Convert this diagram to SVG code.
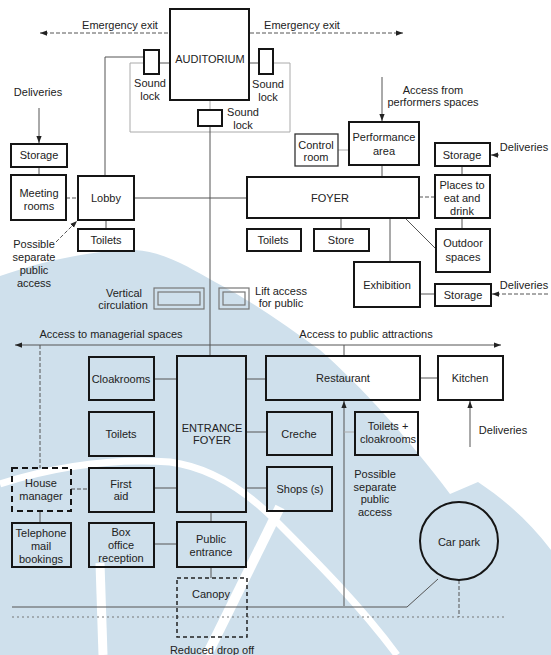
<svg xmlns="http://www.w3.org/2000/svg" width="551" height="655" viewBox="0 0 551 655">
<style>
.bx{fill:none;stroke:#151515;stroke-width:2}
.thin{fill:none;stroke:#333;stroke-width:1.3}
.dbx{fill:none;stroke:#151515;stroke-width:2;stroke-dasharray:6 4}
.dbx2{fill:none;stroke:#222;stroke-width:1.5;stroke-dasharray:4 3}
.vc{fill:none;stroke:#777;stroke-width:1.2}
.ln{fill:none;stroke:#555;stroke-width:1}
.lg{fill:none;stroke:#aaa;stroke-width:1}
.dash{fill:none;stroke:#555;stroke-width:1;stroke-dasharray:4 2}
.dot{fill:none;stroke:#777;stroke-width:1;stroke-dasharray:2 3}
.ar{marker-end:url(#ah)}
text{font-family:"Liberation Sans",Arial,sans-serif;font-size:11px;fill:#222;text-anchor:middle;dominant-baseline:central}
</style>
<defs>
<marker id="ah" viewBox="0 0 8 8" refX="8" refY="4" markerWidth="7" markerHeight="7" markerUnits="userSpaceOnUse" orient="auto">
<path d="M0,1 L8,4 L0,7 z" fill="#222"/>
</marker>
<marker id="as" viewBox="0 0 8 8" refX="8" refY="4" markerWidth="7" markerHeight="7" markerUnits="userSpaceOnUse" orient="auto-start-reverse">
<path d="M0,1 L8,4 L0,7 z" fill="#222"/>
</marker>
</defs>
<rect width="551" height="655" fill="#fff"/>
<g id="watermark">
<path d="M0,276 C40,262 90,250 135,250 C165,252 190,268 215,282 C250,300 285,325 320,350 C360,385 410,440 450,494 L478,482 C505,500 530,522 551,550 L551,655 L0,655 Z" fill="#cfe0ec"/>
<path d="M0,484 C50,468 110,458 170,462 C215,468 250,495 275,520 C315,560 360,605 397,655" fill="none" stroke="#fff" stroke-width="7"/>
<path d="M100,563 L103,655" fill="none" stroke="#fff" stroke-width="9"/>
<path d="M280,507 L207,655" fill="none" stroke="#fff" stroke-width="10"/>
</g>
<g id="connectors">
<line class="dash ar" x1="168" y1="33" x2="40" y2="33"/>
<line class="dash ar" x1="250" y1="33" x2="403" y2="33"/>
<polyline class="ln" points="105,176 105,57 144,57"/>
<polyline class="lg" points="144,63 130,63 130,132 290,132 290,63 273,63"/>
<line class="ln" x1="159" y1="63" x2="170" y2="63"/>
<line class="ln" x1="249" y1="63" x2="259" y2="63"/>
<line class="lg" x1="210" y1="100" x2="210" y2="110"/>
<line class="ln" x1="210" y1="126" x2="210" y2="356"/>
<line class="ln ar" x1="39" y1="108" x2="39" y2="143"/>
<line class="ln" x1="39" y1="167" x2="39" y2="175"/>
<line class="dash" x1="66" y1="198" x2="78" y2="198"/>
<line class="ln" x1="106" y1="220" x2="106" y2="229"/>
<line class="ln" x1="134" y1="198" x2="247" y2="198"/>
<line class="dash ar" x1="56" y1="242" x2="77" y2="221"/>
<line class="ln ar" x1="382" y1="77" x2="382" y2="121"/>
<line class="lg" x1="338" y1="150" x2="349" y2="150"/>
<line class="ln" x1="382" y1="165" x2="382" y2="177"/>
<line class="dash ar" x1="499" y1="155" x2="491" y2="155"/>
<line class="ln" x1="462" y1="166" x2="462" y2="175"/>
<line class="dash" x1="419" y1="197" x2="435" y2="197"/>
<line class="ln" x1="462" y1="218" x2="462" y2="229"/>
<line class="ln" x1="405" y1="218" x2="436" y2="249"/>
<line class="ln" x1="341" y1="218" x2="341" y2="229"/>
<line class="ln" x1="390" y1="218" x2="390" y2="262"/>
<line class="ln" x1="420" y1="294" x2="435" y2="294"/>
<line class="dash ar" x1="548" y1="294" x2="492" y2="294"/>
<line class="ln" x1="15" y1="345" x2="501" y2="345" marker-start="url(#as)" marker-end="url(#ah)"/>
<line class="dash" x1="40" y1="345" x2="40" y2="468"/>
<line class="ln" x1="344" y1="345" x2="344" y2="356"/>
<line class="ln" x1="154" y1="379" x2="177" y2="379"/>
<line class="ln" x1="246" y1="379" x2="266" y2="379"/>
<line class="ln" x1="420" y1="378" x2="438" y2="378"/>
<line class="ln ar" x1="470" y1="447" x2="470" y2="401"/>
<line class="ln" x1="246" y1="432" x2="267" y2="432"/>
<line class="ln" x1="246" y1="488" x2="267" y2="488"/>
<line class="ln" x1="154" y1="488" x2="177" y2="488"/>
<line class="dash" x1="71" y1="489" x2="89" y2="489"/>
<line class="ln" x1="40" y1="511" x2="40" y2="523"/>
<line class="ln" x1="154" y1="544" x2="177" y2="544"/>
<line class="ln" x1="211" y1="512" x2="211" y2="522"/>
<line class="ln" x1="211" y1="567" x2="211" y2="578"/>
<line class="ln ar" x1="344" y1="606" x2="344" y2="401"/>
<line class="lg" x1="344" y1="432" x2="355" y2="432"/>
<polyline class="ln" points="12,607 407,607 438,579"/>
<line class="dot" x1="12" y1="617" x2="505" y2="617"/>
<line class="dash" x1="459" y1="580" x2="459" y2="617"/>
</g>
<g id="labels">
<text x="120" y="25">Emergency exit</text>
<text x="302" y="25">Emergency exit</text>
<text x="38" y="92">Deliveries</text>
<text x="34" y="244">Possible</text>
<text x="34" y="257">separate</text>
<text x="34" y="270">public</text>
<text x="34" y="283">access</text>
<text x="433" y="90">Access from</text>
<text x="433" y="102">performers spaces</text>
<text x="524" y="147">Deliveries</text>
<text x="524" y="285">Deliveries</text>
<text x="111" y="334">Access to managerial spaces</text>
<text x="366" y="334">Access to public attractions</text>
<text x="503" y="430">Deliveries</text>
<text x="375" y="474">Possible</text>
<text x="375" y="487">separate</text>
<text x="375" y="499">public</text>
<text x="375" y="512">access</text>
<text x="212" y="650">Reduced drop off</text>
</g>
<g id="auditorium"><rect class="bx" x="170" y="9" width="79" height="91"/><text x="210" y="59">AUDITORIUM</text></g>
<g id="soundlock-left"><rect class="bx" x="144" y="50" width="15" height="24"/><text x="150" y="83">Sound</text><text x="150" y="96">lock</text></g>
<g id="soundlock-right"><rect class="bx" x="259" y="49" width="14" height="25"/><text x="268" y="84">Sound</text><text x="268" y="97">lock</text></g>
<g id="soundlock-bottom"><rect class="bx" x="198" y="110" width="24" height="16"/><text x="243" y="112">Sound</text><text x="243" y="125">lock</text></g>
<g id="storage-left"><rect class="bx" x="11" y="144" width="56" height="23"/><text x="39" y="155">Storage</text></g>
<g id="meeting-rooms"><rect class="bx" x="11" y="175" width="55" height="45"/><text x="39" y="193">Meeting</text><text x="39" y="206">rooms</text></g>
<g id="lobby"><rect class="bx" x="78" y="176" width="56" height="44"/><text x="106" y="198">Lobby</text></g>
<g id="toilets-lobby"><rect class="bx" x="78" y="229" width="56" height="22"/><text x="106" y="240">Toilets</text></g>
<g id="control-room"><rect class="thin" x="295" y="134" width="43" height="32"/><text x="316" y="145">Control</text><text x="316" y="157">room</text></g>
<g id="performance-area"><rect class="bx" x="349" y="122" width="70" height="43"/><text x="384" y="137">Performance</text><text x="384" y="151">area</text></g>
<g id="storage-top-right"><rect class="bx" x="435" y="143" width="55" height="23"/><text x="462" y="155">Storage</text></g>
<g id="foyer"><rect class="bx" x="247" y="177" width="172" height="41"/><text x="330" y="198">FOYER</text></g>
<g id="places-to-eat"><rect class="bx" x="435" y="175" width="55" height="43"/><text x="462" y="185">Places to</text><text x="462" y="198">eat and</text><text x="462" y="211">drink</text></g>
<g id="toilets-foyer"><rect class="bx" x="247" y="229" width="54" height="22"/><text x="273" y="240">Toilets</text></g>
<g id="store"><rect class="bx" x="314" y="229" width="55" height="22"/><text x="341" y="240">Store</text></g>
<g id="outdoor-spaces"><rect class="bx" x="436" y="229" width="54" height="43"/><text x="463" y="243">Outdoor</text><text x="463" y="257">spaces</text></g>
<g id="exhibition"><rect class="bx" x="354" y="262" width="66" height="45"/><text x="387" y="285">Exhibition</text></g>
<g id="storage-bottom-right"><rect class="bx" x="435" y="284" width="56" height="22"/><text x="463" y="295">Storage</text></g>
<g id="vertical-circulation"><rect class="vc" x="154" y="288" width="50" height="21"/><rect class="vc" x="158" y="292" width="42" height="13"/><text x="124" y="293">Vertical</text><text x="123" y="305">circulation</text></g>
<g id="lift-access"><rect class="vc" x="219" y="288" width="30" height="21"/><rect class="vc" x="223" y="292" width="22" height="13"/><text x="281" y="291">Lift access</text><text x="281" y="303">for public</text></g>
<g id="cloakrooms"><rect class="bx" x="89" y="357" width="65" height="43"/><text x="121" y="379">Cloakrooms</text></g>
<g id="toilets-entrance"><rect class="bx" x="89" y="412" width="65" height="44"/><text x="121" y="434">Toilets</text></g>
<g id="entrance-foyer"><rect class="bx" x="177" y="356" width="69" height="156"/><text x="212" y="428">ENTRANCE</text><text x="212" y="440">FOYER</text></g>
<g id="restaurant"><rect class="bx" x="266" y="356" width="154" height="44"/><text x="343" y="378">Restaurant</text></g>
<g id="kitchen"><rect class="bx" x="438" y="356" width="65" height="44"/><text x="470" y="378">Kitchen</text></g>
<g id="creche"><rect class="bx" x="267" y="412" width="65" height="43"/><text x="299" y="434">Creche</text></g>
<g id="shops"><rect class="bx" x="267" y="467" width="65" height="44"/><text x="300" y="489">Shops (s)</text></g>
<g id="toilets-cloakrooms"><rect class="bx" x="355" y="412" width="63" height="43"/><text x="388" y="426">Toilets +</text><text x="388" y="439">cloakrooms</text></g>
<g id="house-manager"><rect class="dbx" x="12" y="468" width="59" height="43"/><text x="41" y="483">House</text><text x="41" y="496">manager</text></g>
<g id="telephone"><rect class="bx" x="12" y="523" width="59" height="44"/><text x="41" y="533">Telephone</text><text x="41" y="546">mail</text><text x="41" y="559">bookings</text></g>
<g id="first-aid"><rect class="bx" x="89" y="468" width="65" height="44"/><text x="121" y="484">First</text><text x="121" y="496">aid</text></g>
<g id="box-office"><rect class="bx" x="89" y="523" width="65" height="44"/><text x="121" y="532">Box</text><text x="121" y="545">office</text><text x="121" y="558">reception</text></g>
<g id="public-entrance"><rect class="bx" x="177" y="522" width="69" height="45"/><text x="211" y="539">Public</text><text x="211" y="552">entrance</text></g>
<g id="canopy"><rect class="dbx2" x="177" y="578" width="70" height="59"/><text x="211" y="594">Canopy</text></g>
<g id="car-park"><circle class="bx" cx="459" cy="541" r="39"/><text x="459" y="542">Car park</text></g>
</svg>
